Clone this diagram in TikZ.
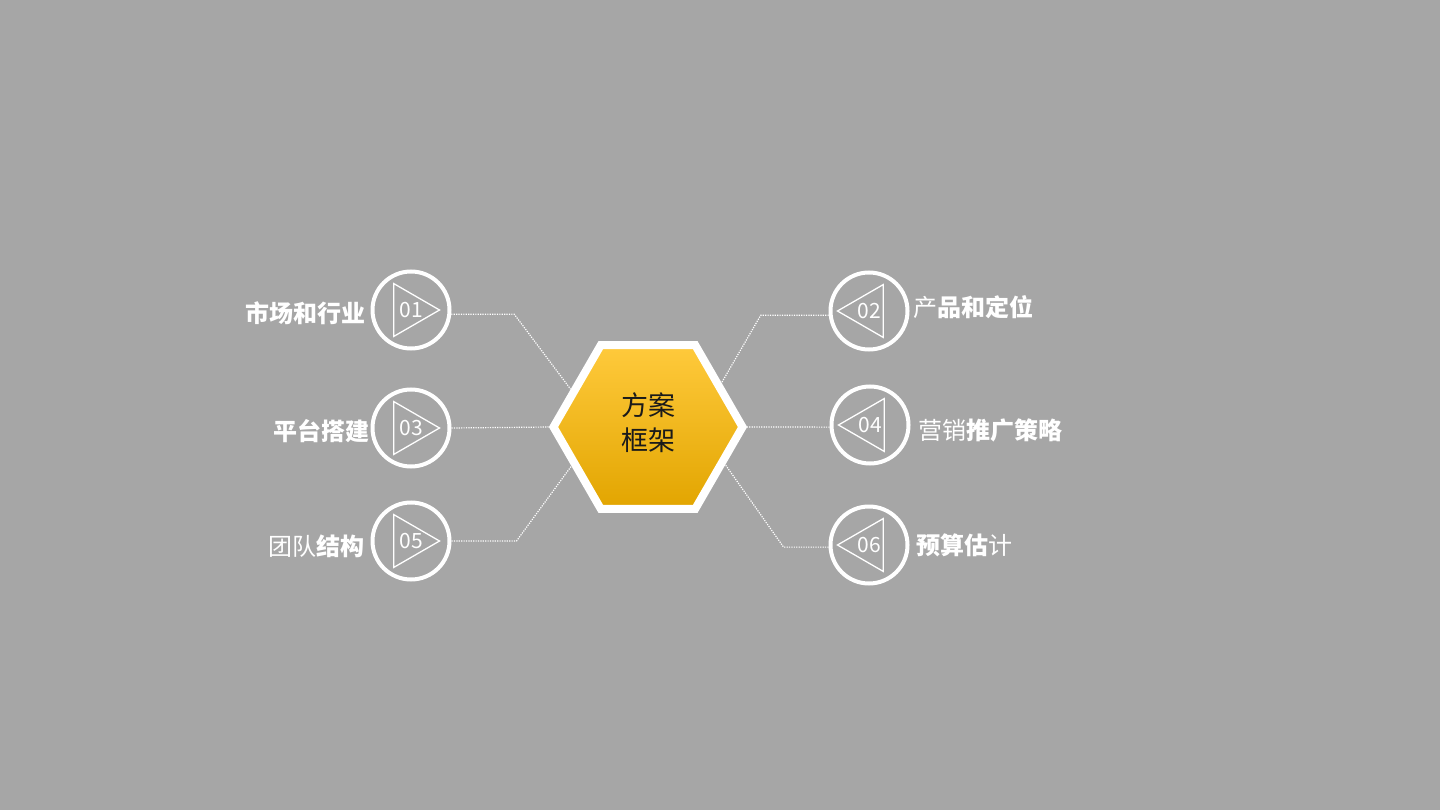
\documentclass[tikz,border=0pt]{standalone}
\usepackage{fontspec}
\setmainfont{Noto Sans CJK SC}
\usetikzlibrary{positioning}
\usetikzlibrary{shapes.geometric}
\definecolor{backgray}{HTML}{A6A6A6}
\definecolor{hextop}{HTML}{FFCA3C}
\definecolor{hexmid}{HTML}{FFC000}
\definecolor{hexbot}{HTML}{E2A500}
\definecolor{hextext}{HTML}{1A1A1A}

\begin{document}
\begin{tikzpicture}[x=1pt,y=-1pt,
	ring/.style={circle, draw=white, line width=4pt, minimum size=77pt, inner sep=0pt, text=white, font=\fontsize{21pt}{21pt}\selectfont},
	tri/.style={regular polygon, regular polygon sides=3, draw=white, line width=1.3pt, minimum size=61pt, inner sep=0pt},
	hexa/.style={regular polygon, regular polygon sides=6, draw=white, line width=8pt, minimum size=189pt, inner sep=0pt, top color=hextop, middle color=hexmid, bottom color=hexbot},
	title/.style={text=hextext, align=center, inner sep=0pt, font=\fontsize{27pt}{35pt}\selectfont},
	lab/.style={text=white, inner sep=0pt, font=\fontsize{24pt}{24pt}\selectfont},
	link/.style={white, line width=1.2pt, dash pattern=on 1.2pt off 1.2pt}]
		\fill[backgray] (0,0) rectangle (1440,810);
		\useasboundingbox (0,0) rectangle (1440,810);

		\node[hexa] (hex) at (648,427) {};
		\node[title] (name) at ([yshift=4pt]hex.center) {方案\\框架};

		\node[ring] (c1) at (411,310) {01};
		\node[ring] (c3) at (411,428) {03};
		\node[ring] (c5) at (411,541) {05};
		\node[ring] (c2) at (869,311) {02};
		\node[ring] (c4) at (870,425) {04};
		\node[ring] (c6) at (869,545) {06};

		\node[tri, shape border rotate=-90] (t1) at ([xshift=-2pt]c1.center) {};
		\node[tri, shape border rotate=-90] (t3) at ([xshift=-2pt]c3.center) {};
		\node[tri, shape border rotate=-90] (t5) at ([xshift=-2pt]c5.center) {};
		\node[tri, shape border rotate=90] (t2) at ([xshift=-1pt]c2.center) {};
		\node[tri, shape border rotate=90] (t4) at ([xshift=-1pt]c4.center) {};
		\node[tri, shape border rotate=90] (t6) at ([xshift=-1pt]c6.center) {};

		\node[lab, left=4.5pt of c1, yshift=-3pt] (l1) {\bfseries 市场和行业};
		\node[lab, left=0.5pt of c3, yshift=-3pt] (l3) {\bfseries 平台搭建};
		\node[lab, left=5.5pt of c5, yshift=-5pt] (l5) {团队\bfseries 结构};
		\node[lab, right=3.5pt of c2, yshift=4pt] (l2) {产\bfseries 品和定位};
		\node[lab, right=7.5pt of c4, yshift=-5pt] (l4) {营销\bfseries 推广策略};
		\node[lab, right=6.5pt of c6, yshift=0pt] (l6) {\bfseries 预算估\mdseries 计};

		\draw[link] (c1.-6) -- ++(63,0) -- (hex.154);
		\draw[link] (c3.east) -- (hex.west);
		\draw[link] (c5.east) -- ++(65,0) -- (hex.207);
		\draw[link] (c2.186) -- ++(-68,0) -- (hex.31);
		\draw[link] (c4.183) -- (hex.east);
		\draw[link] (c6.183) -- ++(-45,0) -- (hex.-26);
	\end{tikzpicture}
\end{document}
